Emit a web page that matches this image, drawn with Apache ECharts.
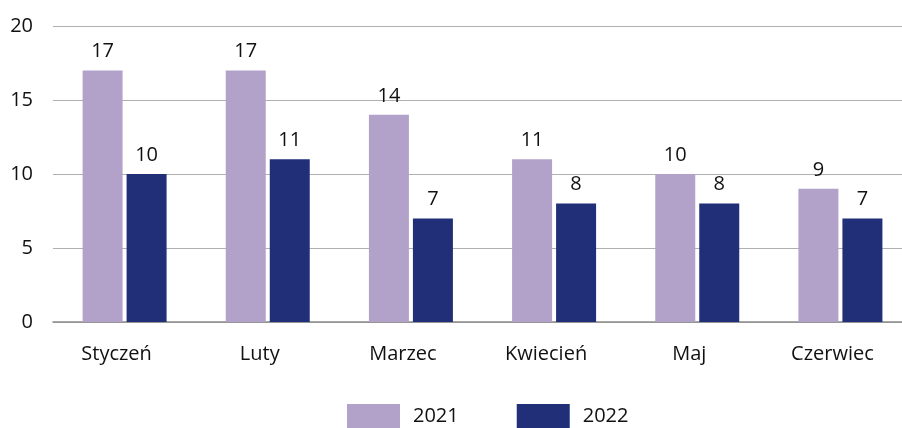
<!DOCTYPE html>
<html><head><meta charset="utf-8">
<script src="https://cdn.jsdelivr.net/npm/echarts@6/dist/echarts.min.js"></script>
<style>html,body{margin:0;padding:0;background:#fff;overflow:hidden;width:902px;height:428px}#c{width:912px;height:428px}</style>
</head><body><div id="c"></div>
<script>
const categories = ['Styczeń','Luty','Marzec','Kwiecień','Maj','Czerwiec'];
const seriesNames = ['2021','2022'];
const values2021 = [17,17,14,11,10,9];
const values2022 = [10,11,7,8,8,7];
const yTicks = [0,5,10,15,20];

const font = '"Open Sans", sans-serif';
const chart = echarts.init(document.getElementById('c'));
chart.setOption({
  animation: false,
  textStyle: {fontFamily: font},
  grid: {left: 53, right: 0, top: 26, bottom: 106, containLabel: false},
  legend: {
    top: 404, left: 347, itemWidth: 53, itemHeight: 24, itemGap: 58, icon: 'rect',
    padding: 0,
    textStyle: {fontSize: 20, color: '#111', fontFamily: font, padding: [0,0,0,8]},
    data: seriesNames
  },
  xAxis: {
    type: 'category', data: categories,
    axisTick: {show: false},
    axisLine: {lineStyle: {color: '#8c8c8c', width: 1.5}},
    axisLabel: {fontSize: 20, color: '#111', margin: 22, padding: [0,16,0,0], fontFamily: font}
  },
  yAxis: {
    type: 'value', min: yTicks[0], max: yTicks[yTicks.length-1], interval: 5,
    axisLabel: {fontSize: 20, color: '#111', margin: 20, fontFamily: font},
    splitLine: {lineStyle: {color: '#b0b0b0', width: 1.2}},
    axisLine: {show: false}, axisTick: {show: false}
  },
  series: [
    {name: seriesNames[0], type: 'bar', data: values2021, barWidth: 40, barGap: '10%',
     itemStyle: {color: '#B2A2C9'},
     label: {show: true, position: 'top', distance: 9, fontSize: 20, color: '#111', fontFamily: font}},
    {name: seriesNames[1], type: 'bar', data: values2022, barWidth: 40,
     itemStyle: {color: '#212E78'},
     label: {show: true, position: 'top', distance: 9, fontSize: 20, color: '#111', fontFamily: font}}
  ]
});
</script></body></html>
